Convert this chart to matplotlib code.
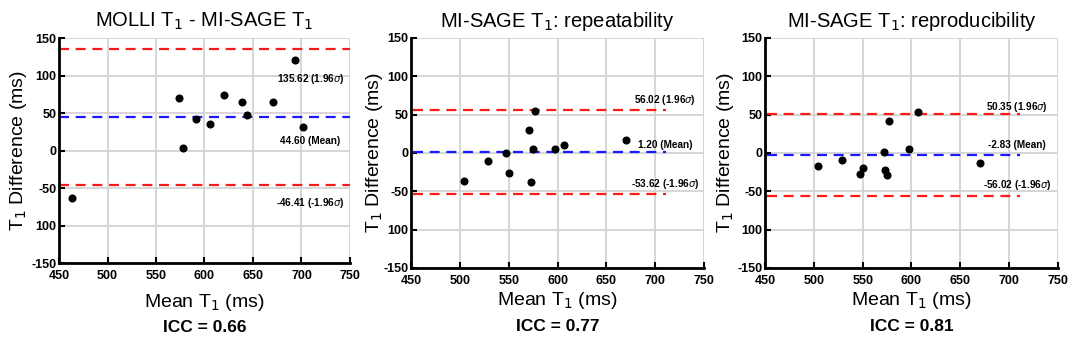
import numpy as np
import matplotlib
matplotlib.use('Agg')
import matplotlib.pyplot as plt

plt.rcParams['font.family'] = ['Liberation Sans', 'DejaVu Sans']
plt.rcParams['mathtext.fontset'] = 'dejavusans'

# Данные: средние и разности T1 (мс)
titles = ['MOLLI T$_1$ - MI-SAGE T$_1$',
          'MI-SAGE T$_1$: repeatability',
          'MI-SAGE T$_1$: reproducibility']
icc_values = [0.66, 0.77, 0.81]

mean_molli = [463.8, 573.5, 578.0, 591.0, 605.8, 620.3, 638.9, 643.7, 670.8, 692.9, 701.8]
diff_molli = [-62.9, 70.4, 2.9, 42.0, 35.3, 74.0, 64.7, 46.9, 65.1, 120.7, 31.3]

mean_repeat = [504.2, 528.4, 546.8, 549.9, 571.0, 572.7, 575.1, 576.5, 597.3, 606.5, 670.6]
diff_repeat = [-36.0, -10.9, 0.0, -26.5, 29.6, -38.3, 5.2, 54.3, 5.6, 10.9, 17.0]

mean_reprod = [504.5, 528.8, 547.5, 550.2, 571.4, 572.7, 575.1, 576.5, 597.3, 606.5, 670.6]
diff_reprod = [-16.5, -9.1, -27.4, -19.1, 0.9, -21.7, -28.3, 41.7, 5.7, 53.5, -13.0]

# верхний предел, среднее, нижний предел
limits = [[135.62, 44.60, -46.41],
          [56.02, 1.20, -53.62],
          [50.35, -2.83, -56.02]]
limit_texts = [['135.62 (1.96$\\sigma$)', '44.60 (Mean)', '-46.41 (-1.96$\\sigma$)'],
               ['56.02 (1.96$\\sigma$)', '1.20 (Mean)', '-53.62 (-1.96$\\sigma$)'],
               ['50.35 (1.96$\\sigma$)', '-2.83 (Mean)', '-56.02 (-1.96$\\sigma$)']]

y_ticks = [-150, -100, -50, 0, 50, 100, 150]
y_tick_labels = ['-150', '100', '-50', '0', '50', '100', '150']
x_ticks = [450, 500, 550, 600, 650, 700, 750]

# Разметка
axes_pos = [[0.0552, 0.2332, 0.2722, 0.6560],
            [0.3845, 0.2187, 0.2741, 0.6706],
            [0.7156, 0.2187, 0.2741, 0.6706]]
line_spans = [(450, 750), (452, 711), (452, 711)]
text_y = [[95.8, 13.1, -70.0],
          [68.7, 10.4, -40.0],
          [59.6, 10.9, -41.7]]
text_x = [709, 710, 708]
xlabel_y = [0.118, 0.125, 0.125]
icc_y = [0.045, 0.048, 0.048]
ylabel_x = [0.017, 0.350, 0.679]

means = [mean_molli, mean_repeat, mean_reprod]
diffs = [diff_molli, diff_repeat, diff_reprod]
line_colors = ['#ff1a1a', '#1a1aff', '#ff1a1a']

fig = plt.figure(figsize=(10.69, 3.43), dpi=100)

for i in range(3):
    ax = fig.add_axes(axes_pos[i])
    ax.set_xlim(450, 750)
    ax.set_ylim(-150, 150)
    ax.set_xticks(x_ticks)
    ax.set_yticks(y_ticks)
    ax.set_yticklabels(y_tick_labels)
    ax.grid(True, color='#d3d3d3', linewidth=1.3)
    ax.set_axisbelow(True)
    for s in ['top', 'right']:
        ax.spines[s].set_visible(False)
    for s in ['left', 'bottom']:
        ax.spines[s].set_linewidth(2)
    ax.tick_params(direction='in', length=4, width=1.5, labelsize=9)
    ax.tick_params(axis='x', pad=5)
    ax.tick_params(axis='y', pad=2)
    for lab in ax.get_xticklabels() + ax.get_yticklabels():
        lab.set_fontweight('bold')

    x0, x1 = line_spans[i]
    for k in range(3):
        ax.plot([x0, x1], [limits[i][k]] * 2, color=line_colors[k],
                linestyle=(0, (4.5, 3)), linewidth=1.6, zorder=2)
        ax.text(text_x[i], text_y[i][k], limit_texts[i][k], ha='center', va='center',
                fontsize=7.2, fontweight='bold', zorder=4)

    ax.plot(means[i], diffs[i], 'o', color='black', markersize=4.8, zorder=3, clip_on=False)

    ax.set_title(titles[i], fontsize=14.5, pad=8)
    cx = axes_pos[i][0] + axes_pos[i][2] / 2
    fig.text(cx, xlabel_y[i], 'Mean T$_1$ (ms)', ha='center', va='center', fontsize=14)
    fig.text(cx, icc_y[i], f'ICC = {icc_values[i]:.2f}', ha='center', va='center',
             fontsize=12.5, fontweight='bold')
    fig.text(ylabel_x[i], axes_pos[i][1] + axes_pos[i][3] / 2, 'T$_1$ Difference (ms)',
             rotation=90, ha='center', va='center', fontsize=14)

fig.savefig('out.png', dpi=100)
